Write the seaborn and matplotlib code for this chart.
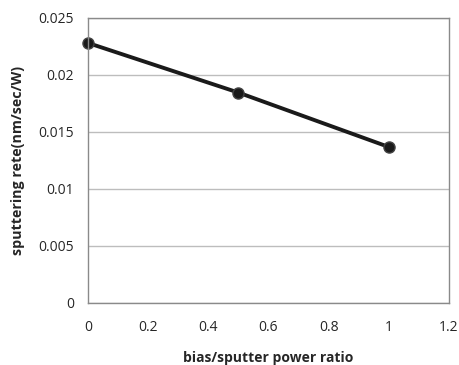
import matplotlib
matplotlib.use("Agg")
import matplotlib.pyplot as plt
import seaborn as sns
import pandas as pd

ratio = [0.0, 0.5, 1.0]
rate = [0.0228, 0.01845, 0.01368]
xticks = [0, 0.2, 0.4, 0.6, 0.8, 1, 1.2]
yticks = [0, 0.005, 0.01, 0.015, 0.02, 0.025]
xticklabels = ["0", "0.2", "0.4", "0.6", "0.8", "1", "1.2"]
yticklabels = ["0", "0.005", "0.01", "0.015", "0.02", "0.025"]

sns.set_theme(style="white")
plt.rcParams['font.family'] = ['Open Sans', 'DejaVu Sans']

df = pd.DataFrame({"ratio": ratio, "rate": rate})
fig = plt.figure(figsize=(4.59, 3.65), dpi=100)
ax = fig.add_axes([0.1917, 0.170, 0.7863, 0.781])
sns.lineplot(data=df, x="ratio", y="rate", ax=ax, color="#1a1a1a", linewidth=2.8,
             marker="o", markersize=8, markeredgecolor="#444444", markerfacecolor="#1a1a1a",
             markeredgewidth=1, clip_on=False)
ax.set_xlim(0, 1.2)
ax.set_ylim(0, 0.025)
ax.set_xticks(xticks)
ax.set_xticklabels(xticklabels, fontsize=10)
ax.set_yticks(yticks)
ax.set_yticklabels(yticklabels, fontsize=10)
ax.yaxis.grid(True, color="#bdbdbd", linewidth=1)
ax.xaxis.grid(False)
ax.set_axisbelow(True)
for s in ax.spines.values():
    s.set_color("#8a8a8a")
    s.set_linewidth(1)
ax.tick_params(axis="y", length=0, pad=10)
ax.tick_params(axis="x", length=0, pad=12)
ax.set_xlabel("bias/sputter power ratio", fontsize=10, fontweight="bold", labelpad=12)
ax.set_ylabel("sputtering rete(nm/sec/W)", fontsize=10.3, fontweight="bold", labelpad=10)
fig.savefig("out.png", dpi=100)
